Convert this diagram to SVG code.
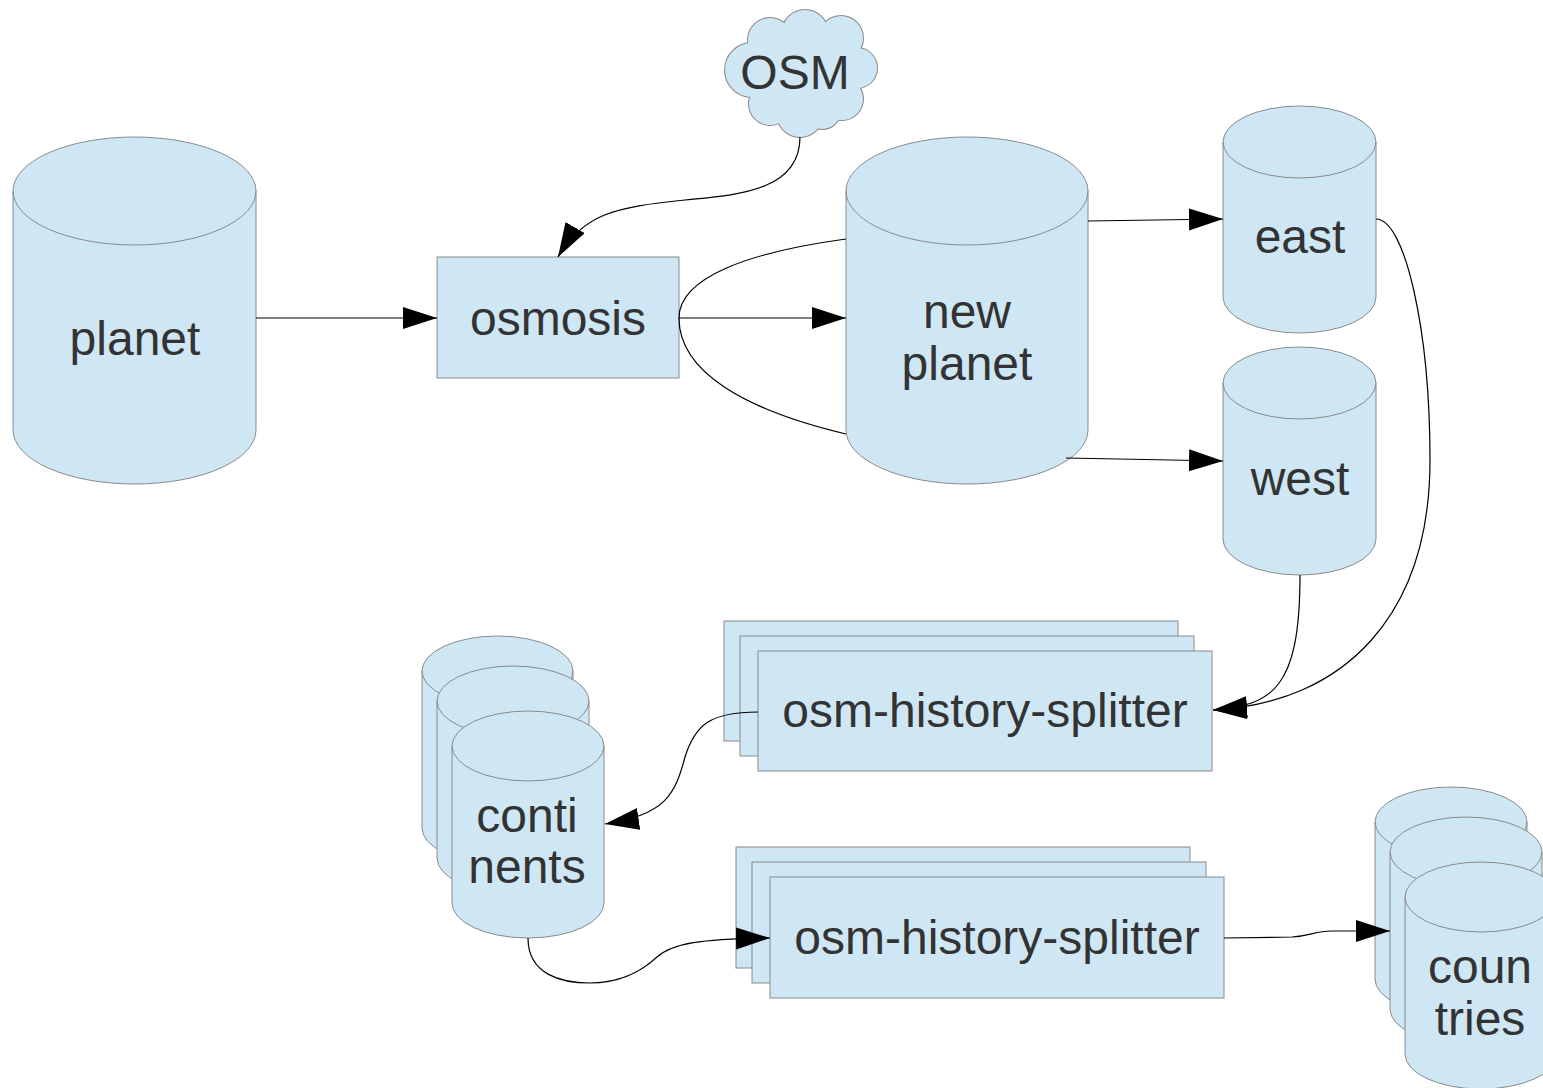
<svg xmlns="http://www.w3.org/2000/svg" width="1543" height="1088" viewBox="0 0 1543 1088">
<style>
.s{fill:#cfe7f5;stroke:#8a8a8a;stroke-width:1}
.sn{fill:none;stroke:#8a8a8a;stroke-width:1}
.t{font-family:"Liberation Sans",Arial,sans-serif;font-size:48px;fill:#333333;text-anchor:middle}
.c{fill:none;stroke:#000;stroke-width:1.2}
.a{fill:none;stroke:#000;stroke-width:1.2;marker-end:url(#ah)}
</style>
<defs>
<marker id="ah" markerUnits="userSpaceOnUse" markerWidth="36" markerHeight="24" refX="34" refY="11" orient="auto">
<path d="M0,0 L34,11 L0,22 Z" fill="#000"/>
</marker>
</defs>
<rect width="1543" height="1088" fill="#fff"/>

<g id="planet">
<path class="s" d="M13,191 A121.5,54 0 0 1 256,191 V430 A121.5,54 0 0 1 13,430 Z"/>
<path class="sn" d="M13,191 A121.5,54 0 0 0 256,191"/>
<text class="t" x="135" y="355">planet</text>
</g>

<g id="osm">
<g fill="#cfe7f5" stroke="#8a8a8a" stroke-width="2">
<circle cx="752" cy="70" r="27"/>
<circle cx="770" cy="40" r="22"/>
<circle cx="805" cy="33" r="23"/>
<circle cx="841" cy="38" r="22"/>
<circle cx="857" cy="68" r="20"/>
<circle cx="842" cy="99" r="21"/>
<circle cx="800" cy="114" r="23"/>
<circle cx="770" cy="104" r="21"/>
<circle cx="822" cy="110" r="19"/>
</g>
<g fill="#cfe7f5">
<circle cx="752" cy="70" r="27"/>
<circle cx="770" cy="40" r="22"/>
<circle cx="805" cy="33" r="23"/>
<circle cx="841" cy="38" r="22"/>
<circle cx="857" cy="68" r="20"/>
<circle cx="842" cy="99" r="21"/>
<circle cx="800" cy="114" r="23"/>
<circle cx="770" cy="104" r="21"/>
<circle cx="822" cy="110" r="19"/>
<ellipse cx="805" cy="72" rx="48" ry="40"/>
</g>
<text class="t" x="795" y="89">OSM</text>
</g>

<g id="osmosis">
<rect class="s" x="437" y="257" width="242" height="121"/>
<text class="t" x="558" y="335">osmosis</text>
</g>

<g id="newplanet">
<path class="s" d="M846,191 A121,54 0 0 1 1088,191 V430 A121,54 0 0 1 846,430 Z"/>
<path class="sn" d="M846,191 A121,54 0 0 0 1088,191"/>
<text class="t" x="967" y="328">new</text>
<text class="t" x="967" y="380">planet</text>
</g>

<g id="east">
<path class="s" d="M1223,142 A76.5,36 0 0 1 1376,142 V297 A76.5,36 0 0 1 1223,297 Z"/>
<path class="sn" d="M1223,142 A76.5,36 0 0 0 1376,142"/>
<text class="t" x="1300" y="253">east</text>
</g>

<g id="west">
<path class="s" d="M1223,383 A76.5,36 0 0 1 1376,383 V539 A76.5,36 0 0 1 1223,539 Z"/>
<path class="sn" d="M1223,383 A76.5,36 0 0 0 1376,383"/>
<text class="t" x="1300" y="495">west</text>
</g>

<g id="splitter1">
<rect class="s" x="724" y="621" width="454" height="120"/>
<rect class="s" x="740" y="636" width="454" height="120"/>
<rect class="s" x="758" y="651" width="454" height="120"/>
<text class="t" x="985" y="727">osm-history-splitter</text>
</g>

<g id="splitter2">
<rect class="s" x="736" y="847" width="454" height="121"/>
<rect class="s" x="752" y="862" width="454" height="121"/>
<rect class="s" x="770" y="877" width="454" height="121"/>
<text class="t" x="997" y="954">osm-history-splitter</text>
</g>

<g id="continents">
<path class="s" d="M422,671 A75.5,35 0 0 1 573,671 V828 A75.5,35 0 0 1 422,828 Z"/>
<path class="sn" d="M422,671 A75.5,35 0 0 0 573,671"/>
<path class="s" d="M437,701 A76,35 0 0 1 589,701 V858 A76,35 0 0 1 437,858 Z"/>
<path class="sn" d="M437,701 A76,35 0 0 0 589,701"/>
<path class="s" d="M452,746 A76,35 0 0 1 604,746 V903 A76,35 0 0 1 452,903 Z"/>
<path class="sn" d="M452,746 A76,35 0 0 0 604,746"/>
<text class="t" x="527" y="832">conti</text>
<text class="t" x="527" y="883">nents</text>
</g>

<g id="countries">
<path class="s" d="M1375,822 A76,35 0 0 1 1527,822 V979 A76,35 0 0 1 1375,979 Z"/>
<path class="sn" d="M1375,822 A76,35 0 0 0 1527,822"/>
<path class="s" d="M1390,852 A76,35 0 0 1 1542,852 V1009 A76,35 0 0 1 1390,1009 Z"/>
<path class="sn" d="M1390,852 A76,35 0 0 0 1542,852"/>
<path class="s" d="M1405,897 A76,35 0 0 1 1557,897 V1054 A76,35 0 0 1 1405,1054 Z"/>
<path class="sn" d="M1405,897 A76,35 0 0 0 1557,897"/>
<text class="t" x="1480" y="983">coun</text>
<text class="t" x="1480" y="1035">tries</text>
</g>

<g id="connectors">
<path class="a" d="M256,318 H437"/>
<path class="a" d="M679,318 H846"/>
<path class="a" d="M800,137 C800,192 735,195 685,200 C615,207 583,214 558,257"/>
<path class="c" d="M846,239 C750,252 679,277 679,318 C679,372 745,410 846,434"/>
<path class="a" d="M1088,221 L1223,219"/>
<path class="a" d="M1066,458 L1223,461"/>
<path class="a" d="M1376,219 C1405,219 1430,330 1430,460 C1430,615 1345,703 1213,710"/>
<path class="a" d="M1300,575 C1300,690 1272,705 1213,710"/>
<path class="a" d="M758,712 C710,712 695,725 685,757 C675,795 665,815 605,824"/>
<path class="a" d="M528,938 C528,975 562,983 590,983 C625,983 645,968 657,957 C673,943 700,939 770,938"/>
<path class="a" d="M1224,938 L1292,937 C1310,936 1315,931 1332,931 L1390,931"/>
</g>
</svg>
